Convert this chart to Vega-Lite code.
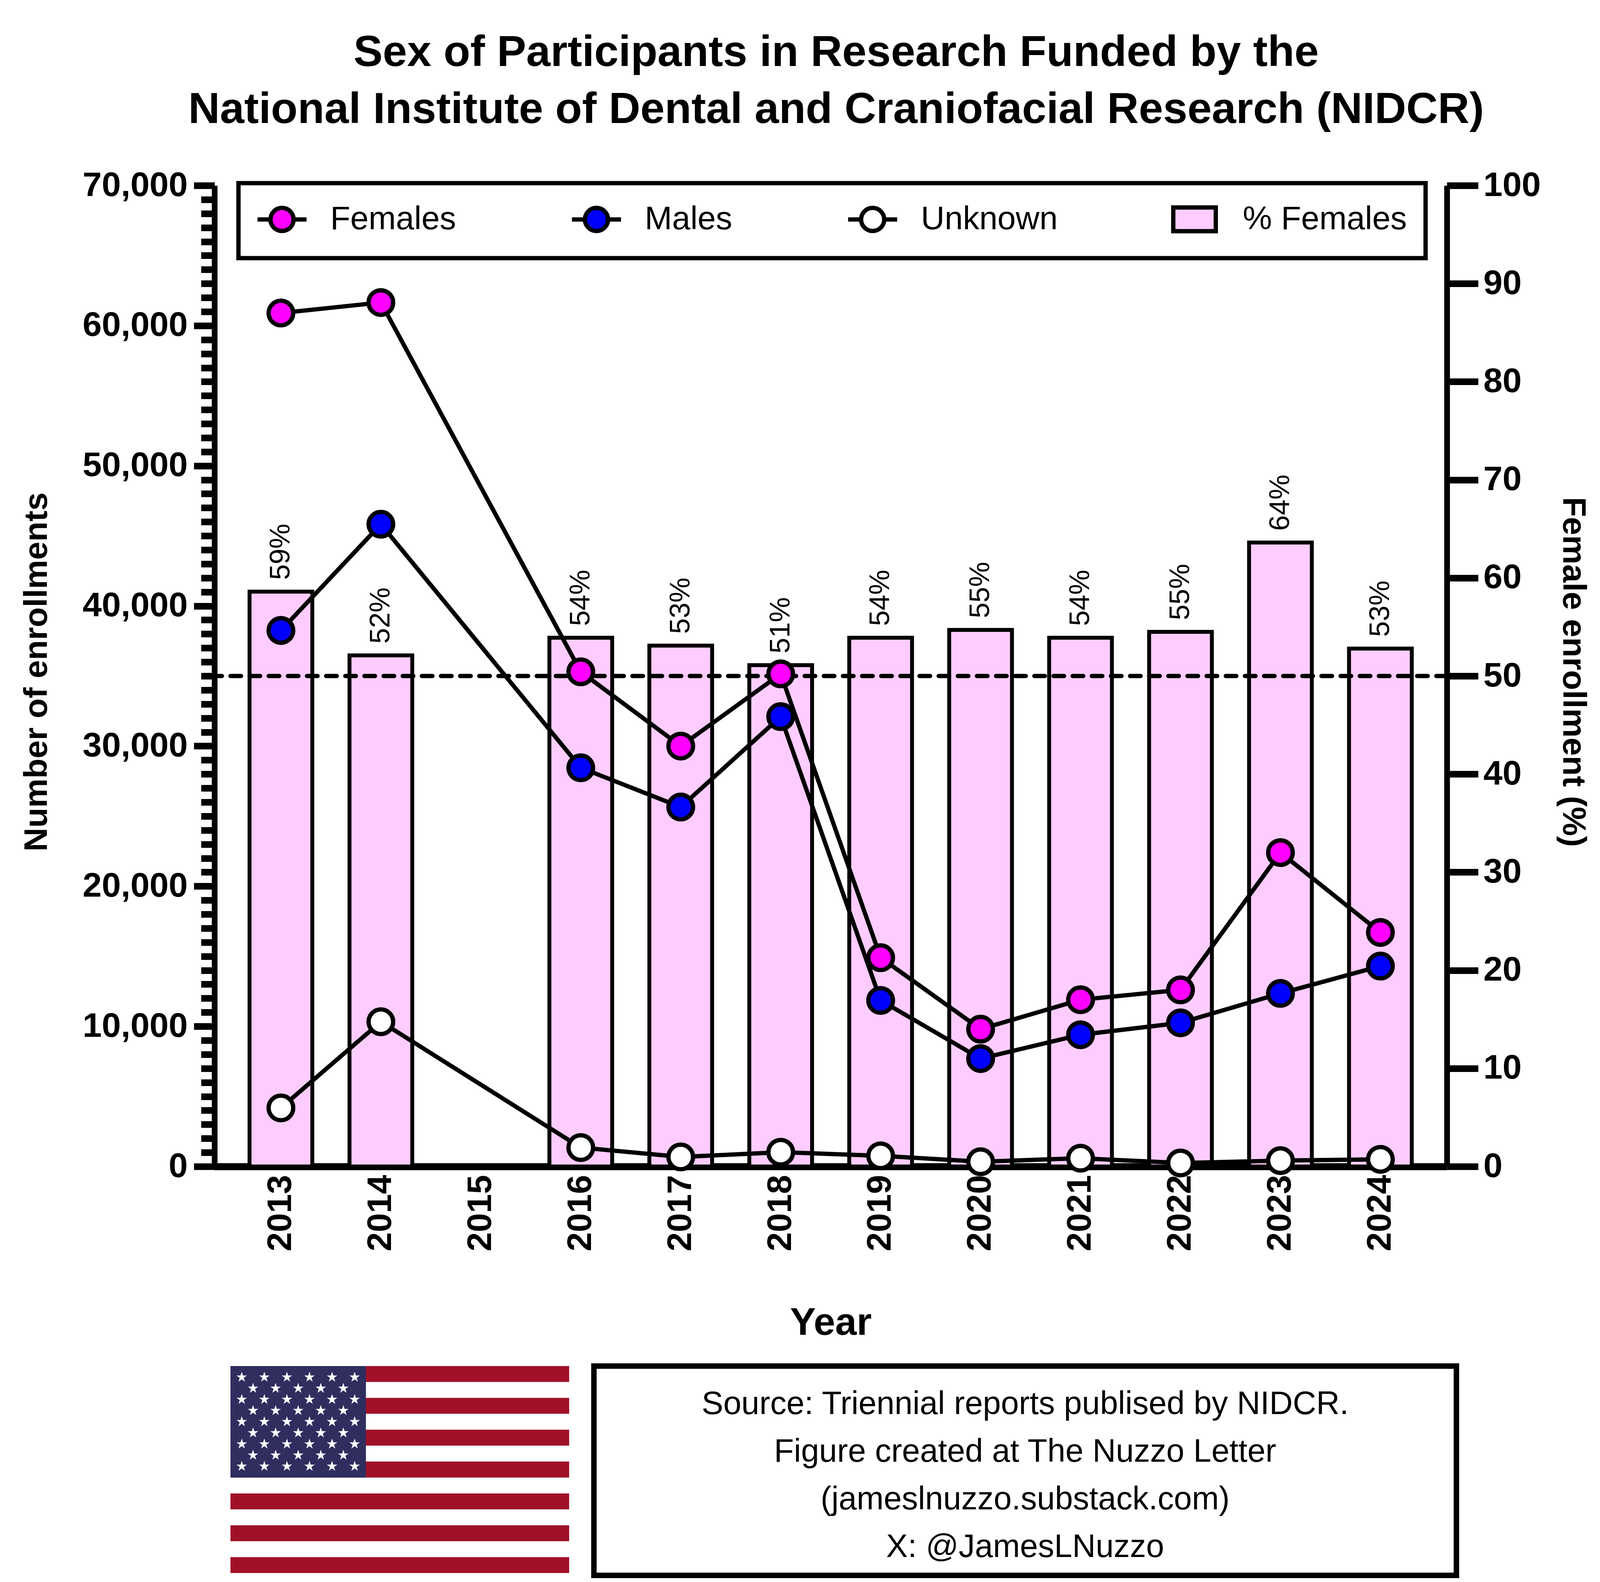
{
  "$schema": "https://vega.github.io/schema/vega-lite/v6.json",
  "autosize": {"type": "none"},
  "padding": {"left": 549, "top": 475, "right": 4218, "bottom": 3576},
  "config": {
    "font": "Liberation Sans",
    "view": {"stroke": null},
    "axis": {
      "domainColor": "black",
      "tickColor": "black",
      "labelColor": "black",
      "titleColor": "black",
      "grid": false,
      "labelLimit": 2000,
      "labelFontWeight": "bold",
      "titleFontWeight": "bold"
    },
    "legend": {"strokeWidth": 11},
    "title": {"color": "black"}
  },
  "datasets": {
    "counts": [
      {"year": "2013", "series": "Females", "value": 60900},
      {"year": "2014", "series": "Females", "value": 61650},
      {"year": "2016", "series": "Females", "value": 35300},
      {"year": "2017", "series": "Females", "value": 30000},
      {"year": "2018", "series": "Females", "value": 35150},
      {"year": "2019", "series": "Females", "value": 14900},
      {"year": "2020", "series": "Females", "value": 9800},
      {"year": "2021", "series": "Females", "value": 11900},
      {"year": "2022", "series": "Females", "value": 12600},
      {"year": "2023", "series": "Females", "value": 22400},
      {"year": "2024", "series": "Females", "value": 16700},
      {"year": "2013", "series": "Males", "value": 38250},
      {"year": "2014", "series": "Males", "value": 45830},
      {"year": "2016", "series": "Males", "value": 28450},
      {"year": "2017", "series": "Males", "value": 25650},
      {"year": "2018", "series": "Males", "value": 32100},
      {"year": "2019", "series": "Males", "value": 11850},
      {"year": "2020", "series": "Males", "value": 7700},
      {"year": "2021", "series": "Males", "value": 9400},
      {"year": "2022", "series": "Males", "value": 10250},
      {"year": "2023", "series": "Males", "value": 12350},
      {"year": "2024", "series": "Males", "value": 14300},
      {"year": "2013", "series": "Unknown", "value": 4180},
      {"year": "2014", "series": "Unknown", "value": 10330},
      {"year": "2016", "series": "Unknown", "value": 1350},
      {"year": "2017", "series": "Unknown", "value": 680},
      {"year": "2018", "series": "Unknown", "value": 1020},
      {"year": "2019", "series": "Unknown", "value": 760},
      {"year": "2020", "series": "Unknown", "value": 340},
      {"year": "2021", "series": "Unknown", "value": 590},
      {"year": "2022", "series": "Unknown", "value": 250},
      {"year": "2023", "series": "Unknown", "value": 420},
      {"year": "2024", "series": "Unknown", "value": 510}
    ],
    "pct": [
      {"year": "2013", "pct": 58.6, "label": "59%"},
      {"year": "2014", "pct": 52.1, "label": "52%"},
      {"year": "2016", "pct": 53.9, "label": "54%"},
      {"year": "2017", "pct": 53.1, "label": "53%"},
      {"year": "2018", "pct": 51.1, "label": "51%"},
      {"year": "2019", "pct": 53.9, "label": "54%"},
      {"year": "2020", "pct": 54.7, "label": "55%"},
      {"year": "2021", "pct": 53.9, "label": "54%"},
      {"year": "2022", "pct": 54.5, "label": "55%"},
      {"year": "2023", "pct": 63.6, "label": "64%"},
      {"year": "2024", "pct": 52.8, "label": "53%"}
    ],
    "stripes": [
      {"x0": 0, "x1": 1.9, "y0": 0, "y1": 1},
      {"x0": 0, "x1": 1.9, "y0": 2, "y1": 3},
      {"x0": 0, "x1": 1.9, "y0": 4, "y1": 5},
      {"x0": 0, "x1": 1.9, "y0": 6, "y1": 7},
      {"x0": 0, "x1": 1.9, "y0": 8, "y1": 9},
      {"x0": 0, "x1": 1.9, "y0": 10, "y1": 11},
      {"x0": 0, "x1": 1.9, "y0": 12, "y1": 13}
    ],
    "canton": [
      {"x0": 0, "x1": 0.76, "y0": 0, "y1": 7}
    ],
    "stars": [
      {"x": 0.0633, "y": 0.7}, {"x": 0.19, "y": 0.7}, {"x": 0.3167, "y": 0.7}, {"x": 0.4433, "y": 0.7}, {"x": 0.57, "y": 0.7}, {"x": 0.6967, "y": 0.7},
      {"x": 0.1267, "y": 1.4}, {"x": 0.2533, "y": 1.4}, {"x": 0.38, "y": 1.4}, {"x": 0.5067, "y": 1.4}, {"x": 0.6333, "y": 1.4},
      {"x": 0.0633, "y": 2.1}, {"x": 0.19, "y": 2.1}, {"x": 0.3167, "y": 2.1}, {"x": 0.4433, "y": 2.1}, {"x": 0.57, "y": 2.1}, {"x": 0.6967, "y": 2.1},
      {"x": 0.1267, "y": 2.8}, {"x": 0.2533, "y": 2.8}, {"x": 0.38, "y": 2.8}, {"x": 0.5067, "y": 2.8}, {"x": 0.6333, "y": 2.8},
      {"x": 0.0633, "y": 3.5}, {"x": 0.19, "y": 3.5}, {"x": 0.3167, "y": 3.5}, {"x": 0.4433, "y": 3.5}, {"x": 0.57, "y": 3.5}, {"x": 0.6967, "y": 3.5},
      {"x": 0.1267, "y": 4.2}, {"x": 0.2533, "y": 4.2}, {"x": 0.38, "y": 4.2}, {"x": 0.5067, "y": 4.2}, {"x": 0.6333, "y": 4.2},
      {"x": 0.0633, "y": 4.9}, {"x": 0.19, "y": 4.9}, {"x": 0.3167, "y": 4.9}, {"x": 0.4433, "y": 4.9}, {"x": 0.57, "y": 4.9}, {"x": 0.6967, "y": 4.9},
      {"x": 0.1267, "y": 5.6}, {"x": 0.2533, "y": 5.6}, {"x": 0.38, "y": 5.6}, {"x": 0.5067, "y": 5.6}, {"x": 0.6333, "y": 5.6},
      {"x": 0.0633, "y": 6.3}, {"x": 0.19, "y": 6.3}, {"x": 0.3167, "y": 6.3}, {"x": 0.4433, "y": 6.3}, {"x": 0.57, "y": 6.3}, {"x": 0.6967, "y": 6.3}
    ]
  },
  "resolve": {"scale": {"fill": "independent", "shape": "independent"}},
  "bounds": "flush",
  "spacing": 511,
  "vconcat": [
    {
      "width": 3155,
      "height": 2512,
      "title": {
        "text": ["Sex of Participants in Research Funded by the", "National Institute of Dental and Craniofacial Research (NIDCR)"],
        "fontSize": 112,
        "fontWeight": "bold",
        "lineHeight": 146,
        "anchor": "middle",
        "frame": "group",
        "offset": 92,
        "dx": 14
      },
      "encoding": {
        "x": {
          "field": "year",
          "type": "ordinal",
          "scale": {
            "domain": ["2013", "2014", "2015", "2016", "2017", "2018", "2019", "2020", "2021", "2022", "2023", "2024"],
            "paddingInner": 0.372,
            "paddingOuter": 0.351
          },
          "axis": {
            "title": "Year",
            "labelAngle": 270,
            "labelFontSize": 88,
            "labelPadding": 21,
            "ticks": false,
            "tickSize": 0,
            "domainWidth": 18,
            "titleFontSize": 99,
            "titleBaseline": "alphabetic",
            "titleY": 430
          }
        }
      },
      "resolve": {"scale": {"y": "independent"}},
      "layer": [
        {
          "data": {"name": "pct"},
          "layer": [
            {
              "mark": {"type": "bar", "fill": "#FFCCFF", "stroke": "black", "strokeWidth": 10},
              "encoding": {
                "y": {
                  "field": "pct",
                  "type": "quantitative",
                  "scale": {"domain": [0, 100], "nice": false},
                  "axis": {
                    "orient": "right",
                    "values": [0, 10, 20, 30, 40, 50, 60, 70, 80, 90, 100],
                    "format": "d",
                    "title": "Female enrollment (%)",
                    "tickSize": 80,
                    "tickWidth": 17,
                    "domainWidth": 14.6,
                    "labelPadding": 13,
                    "labelFontSize": 88,
                    "titleFontSize": 84,
                    "titleAngle": 90,
                    "titleAlign": "center",
                    "titleBaseline": "alphabetic",
                    "titleX": 297,
                    "titleY": 1245
                  }
                }
              }
            },
            {
              "mark": {"type": "text", "angle": 270, "align": "left", "baseline": "middle", "dx": 30, "fontSize": 72, "color": "black"},
              "encoding": {
                "y": {"field": "pct", "type": "quantitative"},
                "text": {"field": "label", "type": "nominal"}
              }
            },
            {
              "data": {"values": [{"level": 50}]},
              "mark": {"type": "rule", "color": "black", "strokeWidth": 11, "strokeDash": [27, 22], "strokeCap": "round"},
              "encoding": {
                "x": null,
                "y": {"field": "level", "type": "quantitative"}
              }
            }
          ]
        },
        {
          "data": {"name": "counts"},
          "layer": [
            {
              "mark": {"type": "line", "color": "black", "strokeWidth": 11, "strokeJoin": "round", "strokeCap": "round"},
              "encoding": {
                "y": {
                  "field": "value",
                  "type": "quantitative",
                  "scale": {"domain": [0, 70000], "nice": false},
                  "axis": {
                    "orient": "left",
                    "values": [0, 10000, 20000, 30000, 40000, 50000, 60000, 70000],
                    "format": ",d",
                    "title": "Number of enrollments",
                    "tickSize": 52.8,
                    "tickWidth": 17,
                    "domainWidth": 14.6,
                    "labelPadding": 16,
                    "labelFontSize": 88,
                    "titleFontSize": 84,
                    "titleAngle": 270,
                    "titleAlign": "center",
                    "titleBaseline": "alphabetic",
                    "titleX": -430,
                    "titleY": 1245
                  }
                },
                "detail": {"field": "series", "type": "nominal"}
              }
            },
            {
              "mark": {"type": "point", "filled": true, "opacity": 1, "size": 3970, "stroke": "black", "strokeWidth": 11},
              "encoding": {
                "y": {"field": "value", "type": "quantitative"},
                "fill": {
                  "field": "series",
                  "type": "nominal",
                  "scale": {
                    "domain": ["Females", "Males", "Unknown", "% Females"],
                    "range": ["#FF00FF", "#0000FF", "#FFFFFF", "#FFCCFF"]
                  }
                }
              }
            },
            {
              "mark": {"type": "point", "filled": true, "opacity": 0, "stroke": "black", "strokeWidth": 11},
              "encoding": {
                "y": {"field": "value", "type": "quantitative"},
                "fill": {
                  "field": "series",
                  "type": "nominal",
                  "scale": {
                    "domain": ["Females", "Males", "Unknown", "% Females"],
                    "range": ["#FF00FF", "#0000FF", "#FFFFFF", "#FFCCFF"]
                  },
                  "legend": {
                    "orient": "none",
                    "legendX": 61.5,
                    "legendY": -6,
                    "direction": "horizontal",
                    "columns": 4,
                    "columnPadding": 273,
                    "padding": 47,
                    "strokeColor": "black",
                    "fillColor": "white",
                    "title": "\u00a0",
                    "titleOrient": "left",
                    "titleFontSize": 10,
                    "titlePadding": 19,
                    "symbolSize": 6400,
                    "symbolStrokeWidth": 11,
                    "symbolStrokeColor": "black",
                    "symbolOpacity": 1,
                    "labelFontSize": 84,
                    "labelFontWeight": "normal",
                    "labelColor": "black",
                    "labelOffset": 78,
                    "labelLimit": 1000,
                    "labelExpr": "datum.label === '% Females' ? '% Females\u00a0' : datum.label"
                  }
                },
                "shape": {
                  "field": "series",
                  "type": "nominal",
                  "scale": {
                    "domain": ["Females", "Males", "Unknown", "% Females"],
                    "range": [
                      "M-1.57,0H-0.74M0.74,0H1.57M0.74,0A0.74,0.74 0 1 1 -0.74,0A0.74,0.74 0 1 1 0.74,0Z",
                      "M-1.57,0H-0.74M0.74,0H1.57M0.74,0A0.74,0.74 0 1 1 -0.74,0A0.74,0.74 0 1 1 0.74,0Z",
                      "M-1.57,0H-0.74M0.74,0H1.57M0.74,0A0.74,0.74 0 1 1 -0.74,0A0.74,0.74 0 1 1 0.74,0Z",
                      "M-1.36,-0.76H1.36V0.76H-1.36Z"
                    ]
                  },
                  "legend": {
                    "orient": "none",
                    "legendX": 61.5,
                    "legendY": -6,
                    "direction": "horizontal",
                    "columns": 4,
                    "columnPadding": 273,
                    "padding": 47,
                    "strokeColor": "black",
                    "fillColor": "white",
                    "title": "\u00a0",
                    "titleOrient": "left",
                    "titleFontSize": 10,
                    "titlePadding": 19,
                    "symbolSize": 6400,
                    "symbolStrokeWidth": 11,
                    "symbolStrokeColor": "black",
                    "symbolOpacity": 1,
                    "labelFontSize": 84,
                    "labelFontWeight": "normal",
                    "labelColor": "black",
                    "labelOffset": 78,
                    "labelLimit": 1000,
                    "labelExpr": "datum.label === '% Females' ? '% Females\u00a0' : datum.label"
                  }
                }
              }
            }
          ]
        },
        {
          "data": {"name": "counts"},
          "mark": {"type": "point", "opacity": 0},
          "encoding": {
            "y": {
              "field": "value",
              "type": "quantitative",
              "scale": {"domain": [0, 70000], "nice": false},
              "axis": {
                "orient": "left",
                "values": [0, 1000, 2000, 3000, 4000, 5000, 6000, 7000, 8000, 9000, 10000, 11000, 12000, 13000, 14000, 15000, 16000, 17000, 18000, 19000, 20000, 21000, 22000, 23000, 24000, 25000, 26000, 27000, 28000, 29000, 30000, 31000, 32000, 33000, 34000, 35000, 36000, 37000, 38000, 39000, 40000, 41000, 42000, 43000, 44000, 45000, 46000, 47000, 48000, 49000, 50000, 51000, 52000, 53000, 54000, 55000, 56000, 57000, 58000, 59000, 60000, 61000, 62000, 63000, 64000, 65000, 66000, 67000, 68000, 69000, 70000],
                "labels": false,
                "domain": false,
                "tickSize": 34.4,
                "tickWidth": 17,
                "title": null
              }
            }
          }
        }
      ]
    },
    {
      "bounds": "flush",
      "spacing": 63.4,
      "hconcat": [
        {
          "width": 908,
          "height": 530,
          "layer": [
            {
              "data": {"name": "stripes"},
              "mark": {"type": "rect", "fill": "#A01129"},
              "encoding": {
                "x": {"field": "x0", "type": "quantitative", "scale": {"domain": [-0.0898, 1.9], "nice": false, "zero": false}, "axis": null},
                "x2": {"field": "x1"},
                "y": {"field": "y0", "type": "quantitative", "scale": {"domain": [0, 13], "reverse": true, "nice": false, "zero": false}, "axis": null},
                "y2": {"field": "y1"}
              }
            },
            {
              "data": {"name": "canton"},
              "mark": {"type": "rect", "fill": "#2F2E5F"},
              "encoding": {
                "x": {"field": "x0", "type": "quantitative"},
                "x2": {"field": "x1"},
                "y": {"field": "y0", "type": "quantitative"},
                "y2": {"field": "y1"}
              }
            },
            {
              "data": {"name": "stars"},
              "mark": {
                "type": "point",
                "shape": "M0,-1L0.2245,-0.309L0.9511,-0.309L0.3633,0.118L0.5878,0.809L0,0.382L-0.5878,0.809L-0.3633,0.118L-0.9511,-0.309L-0.2245,-0.309Z",
                "filled": true,
                "fill": "white",
                "opacity": 1,
                "size": 800,
                "strokeWidth": 0
              },
              "encoding": {
                "x": {"field": "x", "type": "quantitative"},
                "y": {"field": "y", "type": "quantitative"}
              }
            }
          ]
        },
        {
          "width": 2208,
          "height": 536,
          "view": {"stroke": "black", "strokeWidth": 14, "fill": "white"},
          "data": {"values": [{}]},
          "mark": {
            "type": "text",
            "text": ["Source: Triennial reports publised by NIDCR.", "Figure created at The Nuzzo Letter", "(jameslnuzzo.substack.com)", "X: @JamesLNuzzo"],
            "fontSize": 83,
            "lineHeight": 122,
            "align": "center",
            "baseline": "middle",
            "dy": -170,
            "color": "black"
          },
          "encoding": {}
        }
      ]
    }
  ]
}
